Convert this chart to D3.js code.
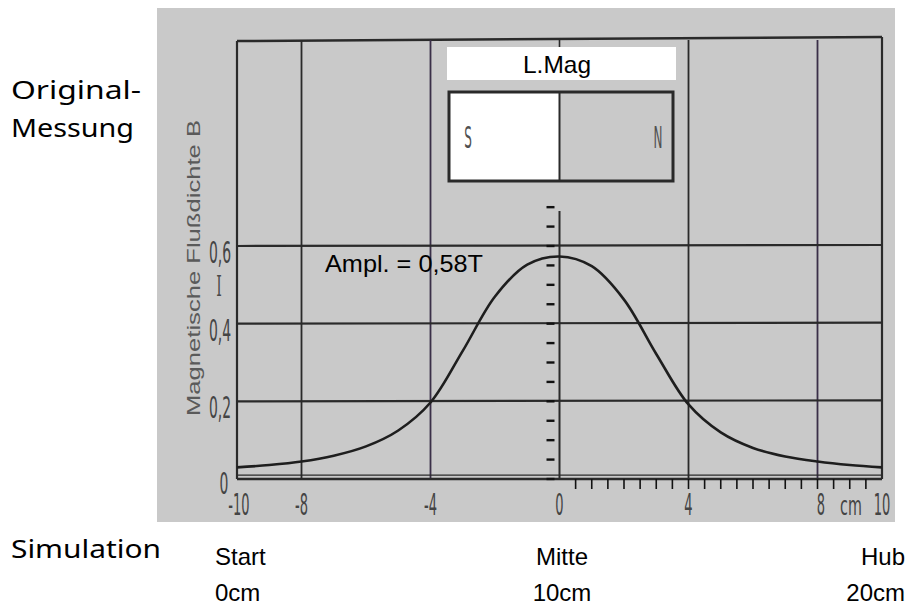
<!DOCTYPE html>
<html>
<head>
<meta charset="utf-8">
<script src="https://cdn.jsdelivr.net/npm/d3@7"></script>
<style>
  body { margin: 0; background: #fff; }
  svg { display: block; }
</style>
</head>
<body>
<div id="chart"></div>
<script>
var posCm = [-10, -9, -8, -7, -6, -5, -4, -3, -2, -1, 0, 1, 2, 3, 4, 5, 6, 7, 8, 9, 10];
var fieldT = [0.030, 0.036, 0.045, 0.060, 0.084, 0.125, 0.197, 0.330, 0.470, 0.552, 0.573, 0.548, 0.462, 0.322, 0.192, 0.120, 0.080, 0.058, 0.045, 0.036, 0.030];
var gridX = [-8, -4, 4, 8];
var gridY = [0.2, 0.4, 0.6];
var xTicks = [-10, -8, -4, 0, 4, 8, 10];
var xTickLabels = ["-10", "-8", "-4", "0", "4", "8", "10"];
var yTicks = [0, 0.2, 0.4, 0.6];
var yTickLabels = ["0", "0,2", "0,4", "0,6"];
var simLabels = [["Start", "0cm"], ["Mitte", "10cm"], ["Hub", "20cm"]];
var simPos = [0, 10, 20];

var width = 909;
var height = 605;

var x = d3.scaleLinear().domain([-10, 10]).range([237, 882]);
var y = d3.scaleLinear().domain([0, 0.6]).range([479, 246]);
var xSim = d3.scaleLinear().domain([0, 20]).range([215, 905]);

var svg = d3.select("#chart")
  .append("svg")
  .attr("width", width)
  .attr("height", height);

// scanned paper
svg.append("rect")
  .attr("x", 157).attr("y", 8).attr("width", 738).attr("height", 514)
  .attr("fill", "#c9c9c9");

var ink = "#2a2a2a";

// plot frame
svg.append("line").attr("x1", x(-10)).attr("x2", x(10)).attr("y1", 41).attr("y2", 37)
  .attr("stroke", ink).attr("stroke-width", 2.5);
svg.append("line").attr("x1", x(-10)).attr("x2", x(-10)).attr("y1", 41).attr("y2", y(0))
  .attr("stroke", ink).attr("stroke-width", 2.2);
svg.append("line").attr("x1", x(10)).attr("x2", x(10)).attr("y1", 37).attr("y2", y(0))
  .attr("stroke", ink).attr("stroke-width", 2.2);

// vertical grid
svg.selectAll(".gx")
  .data(gridX)
  .enter()
  .append("line")
  .attr("x1", d => x(d)).attr("x2", d => x(d))
  .attr("y1", 40).attr("y2", y(0))
  .attr("stroke", (d, i) => i % 2 ? "#3a2f48" : ink)
  .attr("stroke-width", 1.8);

// horizontal grid
svg.selectAll(".gy")
  .data(gridY)
  .enter()
  .append("line")
  .attr("x1", x(-10)).attr("x2", x(10))
  .attr("y1", d => y(d)).attr("y2", d => y(d) - 1)
  .attr("stroke", ink)
  .attr("stroke-width", 2.2);

// base line (double)
svg.append("line").attr("x1", x(-10)).attr("x2", x(10)).attr("y1", y(0.01)).attr("y2", y(0.01))
  .attr("stroke", ink).attr("stroke-width", 1.4);
svg.append("line").attr("x1", x(-10)).attr("x2", x(10)).attr("y1", y(0)).attr("y2", y(0))
  .attr("stroke", ink).attr("stroke-width", 2.6);

// centre axis with minor ticks
svg.append("line").attr("x1", x(0)).attr("x2", x(0)).attr("y1", y(0.69)).attr("y2", y(0))
  .attr("stroke", ink).attr("stroke-width", 2);
svg.append("line").attr("x1", x(0)).attr("x2", x(0)).attr("y1", 39).attr("y2", 47)
  .attr("stroke", ink).attr("stroke-width", 1.6);
svg.selectAll(".ty")
  .data(d3.range(0, 15).map(i => i * 0.05))
  .enter()
  .append("line")
  .attr("x1", x(0) - 13).attr("x2", x(0) - 5)
  .attr("y1", d => y(d)).attr("y2", d => y(d))
  .attr("stroke", "#111").attr("stroke-width", 2.4);
svg.selectAll(".tx")
  .data(d3.range(1, 20).map(i => i * 0.5))
  .enter()
  .append("line")
  .attr("x1", d => x(d)).attr("x2", d => x(d))
  .attr("y1", y(0)).attr("y2", y(0) + 10)
  .attr("stroke", "#111").attr("stroke-width", 1.6);

// curve
var line = d3.line()
  .x((d, i) => x(posCm[i]))
  .y(d => y(d))
  .curve(d3.curveCatmullRom.alpha(0.5));
svg.append("path")
  .datum(fieldT)
  .attr("d", line)
  .attr("fill", "none")
  .attr("stroke", "#1e1e1e")
  .attr("stroke-width", 2.6);

// magnet sketch
svg.append("rect").attr("x", 447).attr("y", 47).attr("width", 229).attr("height", 33).attr("fill", "#fff");
svg.append("text").attr("x", 557).attr("y", 73).attr("text-anchor", "middle")
  .attr("font-family", "Liberation Sans, Arial, sans-serif").attr("font-size", 24)
  .attr("textLength", 68).attr("lengthAdjust", "spacingAndGlyphs")
  .attr("fill", "#000").text("L.Mag");
svg.append("rect").attr("x", 449).attr("y", 92).attr("width", x(0) - 449).attr("height", 89).attr("fill", "#fff");
svg.append("rect").attr("x", 449).attr("y", 92).attr("width", 224).attr("height", 89)
  .attr("fill", "none").attr("stroke", ink).attr("stroke-width", 3);
svg.append("line").attr("x1", x(0)).attr("x2", x(0)).attr("y1", 92).attr("y2", 181)
  .attr("stroke", ink).attr("stroke-width", 2);

var scanFont = "DejaVu Sans, sans-serif";
[["S", 468], ["N", 658]].forEach(function (p) {
  svg.append("text")
    .attr("transform", "translate(" + p[1] + ",148) scale(0.4,1)")
    .attr("text-anchor", "middle")
    .attr("font-family", scanFont).attr("font-size", 30)
    .attr("fill", "#505050").text(p[0]);
});

// annotation
svg.append("text").attr("x", 325).attr("y", 272)
  .attr("font-family", "Liberation Sans, Arial, sans-serif").attr("font-size", 24)
  .attr("textLength", 158).attr("lengthAdjust", "spacingAndGlyphs")
  .attr("fill", "#000").text("Ampl. = 0,58T");

// axis labels (scan style: tall narrow)
svg.selectAll(".xl")
  .data(xTicks)
  .enter()
  .append("text")
  .attr("transform", d => "translate(" + (d === 8 ? 821 : x(d) + (d === -10 ? 2 : 0)) + ",515) scale(0.42,1)")
  .attr("text-anchor", "middle")
  .attr("font-family", scanFont).attr("font-size", 31)
  .attr("fill", "#444")
  .text((d, i) => xTickLabels[i]);
svg.append("text")
  .attr("transform", "translate(851,515) scale(0.55,1)")
  .attr("text-anchor", "middle")
  .attr("font-family", scanFont).attr("font-size", 26)
  .attr("fill", "#444").text("cm");

svg.selectAll(".yl")
  .data(yTicks)
  .enter()
  .append("text")
  .attr("transform", d => "translate(" + (d === 0 ? 224 : 220) + "," + (d === 0 ? 494 : y(d) + 17) + ") scale(0.45,1)")
  .attr("text-anchor", "middle")
  .attr("font-family", scanFont).attr("font-size", 31)
  .attr("fill", "#444")
  .text((d, i) => yTickLabels[i]);
svg.append("text")
  .attr("transform", "translate(219,296) scale(0.5,1)")
  .attr("text-anchor", "middle")
  .attr("font-family", "DejaVu Serif, serif").attr("font-size", 28)
  .attr("fill", "#4a4a4a").text("I");

svg.append("text")
  .attr("transform", "translate(200,268) rotate(-90)")
  .attr("text-anchor", "middle")
  .attr("font-family", "Liberation Sans, Arial, sans-serif").attr("font-size", 19)
  .attr("textLength", 296).attr("lengthAdjust", "spacingAndGlyphs")
  .attr("fill", "#5a5a5a")
  .text("Magnetische Flußdichte B");

// left side captions
var handFont = "Comic Sans MS, Noto Sans, sans-serif";
[["Original-", 99, 130], ["Messung", 137, 123], ["Simulation", 558, 150]].forEach(function (t) {
  svg.append("text")
    .attr("x", 11).attr("y", t[1])
    .attr("font-family", handFont).attr("font-size", 25)
    .attr("textLength", t[2]).attr("lengthAdjust", "spacingAndGlyphs")
    .attr("fill", "#000").text(t[0]);
});

// simulation scale
simPos.forEach(function (d, i) {
  var anchor = i === 0 ? "start" : (i === 1 ? "middle" : "end");
  simLabels[i].forEach(function (s, k) {
    svg.append("text")
      .attr("x", xSim(d) + (i === 1 ? 2 : 0)).attr("y", 565 + k * 36)
      .attr("text-anchor", anchor)
      .attr("font-family", "Liberation Sans, Arial, sans-serif").attr("font-size", 24)
      .attr("fill", "#000").text(s);
  });
});
</script>
</body>
</html>
